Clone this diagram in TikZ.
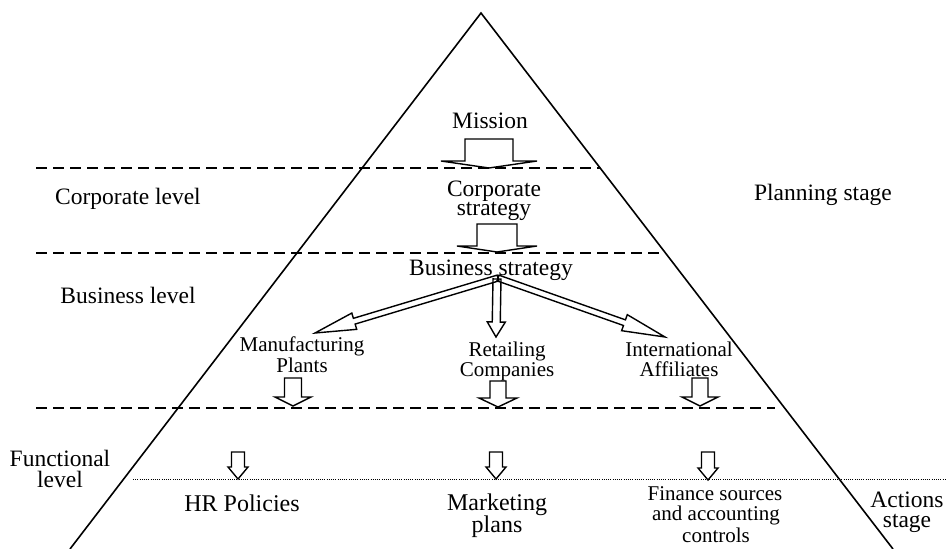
\documentclass[tikz,border=0pt]{standalone}
\usepackage{fontspec}
\setmainfont{Liberation Serif}
\usetikzlibrary{calc}
% #1 from, #2 to, #3 half shaft width, #4 half head width, #5 head length
\newcommand{\fatarrow}[5]{%
  \coordinate (fah) at ($(#2)!#5!(#1)$);
  \draw[fat] ($(#1)!#3!90:(#2)$) -- ($(fah)!#3!-90:(#1)$) -- ($(fah)!#4!-90:(#1)$)
     -- (#2) -- ($(fah)!#4!90:(#1)$) -- ($(fah)!#3!90:(#1)$) -- ($(#1)!#3!-90:(#2)$) -- cycle;}
\begin{document}
\begin{tikzpicture}[x=1pt,y=-1pt,
  lbl/.style={anchor=base, inner sep=0pt, font=\fontsize{23.5}{20}\selectfont},
  mlbl/.style={anchor=base, inner sep=0pt, font=\fontsize{24}{20}\selectfont},
  slbl/.style={anchor=base, inner sep=0pt, font=\fontsize{21}{21}\selectfont},
  fat/.style={draw=black, line width=1.4pt, line join=miter},
  sep/.style={draw=black, line width=1.8pt, dash pattern=on 11pt off 6pt},
  dotsep/.style={draw=black, line width=1pt, dash pattern=on 1pt off 1.2pt},
  tri/.style={draw=black, line width=1.6pt}]
\useasboundingbox (0,0) rectangle (946,549);

% pyramid
\coordinate (apex) at (481,13);
\coordinate (bl) at (70,549);
\coordinate (br) at (893,549);
\draw[tri] (bl) -- (apex) -- (br);

% separators
\draw[sep] (36,168) -- (600,168);
\draw[sep] (36,253) -- (666,253);
\draw[sep] (36,408) -- (775,408);
\draw[dotsep] (133,479) -- (946,479);

% texts
\node[lbl] (mission) at (490,128) {Mission};
\node[lbl] (corpA) at (494,196) {Corporate};
\node[lbl] (corpB) at (494,215) {strategy};
\node[lbl] (bus) at (491,275) {Business strategy};
\node[lbl] (corplev) at (128,204) {Corporate level};
\node[lbl] (buslev) at (128,303) {Business level};
\node[lbl] (plan) at (823,200) {Planning stage};
\node[slbl] (manA) at (302,351) {Manufacturing};
\node[slbl] (manB) at (302,372) {Plants};
\node[slbl] (retA) at (507,356) {Retailing};
\node[slbl] (retB) at (507,376) {Companies};
\node[slbl] (intA) at (679,356) {International};
\node[slbl] (intB) at (679,376) {Affiliates};
\node[lbl] (funA) at (60,466) {Functional};
\node[lbl] (funB) at (60,487) {level};
\node[mlbl] (hr) at (242,511) {HR Policies};
\node[mlbl] (mkA) at (497,510) {Marketing};
\node[mlbl] (mkB) at (497,532) {plans};
\node[slbl] (finA) at (715,500) {Finance sources};
\node[slbl] (finB) at (716,520) {and accounting};
\node[slbl] (finC) at (716,542) {controls};
\node[lbl] (actA) at (907,507) {Actions};
\node[lbl] (actB) at (907,527) {stage};

% arrow end points
\coordinate (m1) at (489,139); \coordinate (m2) at (489,168);
\coordinate (c1) at (497,224); \coordinate (c2) at (497,252);
\coordinate (bo) at (498,278);
\coordinate (bm) at (497,279);
\coordinate (tl) at (315,333);
\coordinate (tm) at (496,337);
\coordinate (tr) at (665,337);
\coordinate (d1a) at (293,378); \coordinate (d1b) at (293,406);
\coordinate (d2a) at (498,381); \coordinate (d2b) at (498,407);
\coordinate (d3a) at (700,378); \coordinate (d3b) at (700,406);
\coordinate (f1a) at (238,452); \coordinate (f1b) at (238,479);
\coordinate (f2a) at (496,452); \coordinate (f2b) at (496,479);
\coordinate (f3a) at (708,452); \coordinate (f3b) at (708,480);

\fatarrow{m1}{m2}{24pt}{48pt}{7pt}
\fatarrow{c1}{c2}{20pt}{40pt}{6pt}
\fatarrow{bo}{tl}{3pt}{8.5pt}{41pt}
\fatarrow{bm}{tm}{4pt}{9pt}{15pt}
\fatarrow{bo}{tr}{3pt}{8.5pt}{43pt}
\fatarrow{d1a}{d1b}{8.5pt}{18pt}{9pt}
\fatarrow{d2a}{d2b}{8pt}{19pt}{9pt}
\fatarrow{d3a}{d3b}{8pt}{18pt}{9pt}
\fatarrow{f1a}{f1b}{6.5pt}{10pt}{12pt}
\fatarrow{f2a}{f2b}{6.5pt}{10pt}{12pt}
\fatarrow{f3a}{f3b}{6.5pt}{10pt}{12pt}
\end{tikzpicture}
\end{document}
